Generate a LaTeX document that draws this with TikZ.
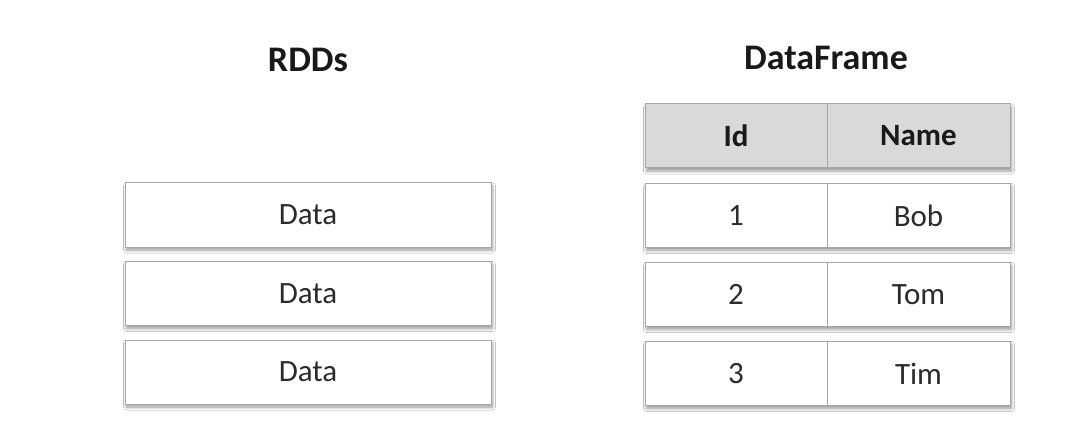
\documentclass[tikz,border=0pt]{standalone}
\usepackage{fontspec}
\setmainfont{Carlito}
\usetikzlibrary{shadows.blur}
\definecolor{bordergray}{HTML}{A6A6A6}
\definecolor{headgray}{HTML}{D9D9D9}
\definecolor{txt}{HTML}{2B2B2B}
\tikzset{
  shadowed/.style={blur shadow={shadow xshift=1.5pt, shadow yshift=-3pt, shadow blur steps=8,
      shadow blur radius=3pt, shadow opacity=40}},
  cell/.style={draw=bordergray, line width=1pt, fill=white, minimum height=64pt,
    inner sep=0pt, text=txt, font=\fontsize{31}{37}\selectfont},
  rowbox/.style={cell, shadowed, minimum width=365pt},
  head/.style={cell, fill=headgray, font=\fontsize{31}{37}\selectfont\bfseries, text=black!90},
  title/.style={font=\fontsize{36}{42}\selectfont\bfseries, text=black!90, inner sep=0pt}
}
\begin{document}
\begin{tikzpicture}[x=1pt,y=-1pt]
\path[use as bounding box, fill=white] (0,0) rectangle (1088,441);
\node[title] (t1) at (308,60) {RDDs};
\node[title] (t2) at (826,58) {DataFrame};
\node[cell, shadowed, minimum width=366pt] (d1) at (308,215) {Data};
\node[cell, shadowed, minimum width=366pt] (d2) at (308,293.5) {Data};
\node[cell, shadowed, minimum width=366pt] (d3) at (308,372) {Data};
% table rows (shadow carriers)
\node[rowbox, fill=headgray] (r0) at (827.5,136) {};
\node[rowbox] (r1) at (827.5,215.5) {};
\node[rowbox] (r2) at (827.5,294.5) {};
\node[rowbox] (r3) at (827.5,373.5) {};
% cells
\node[head, minimum width=182pt] (hid) at (736,136) {Id};
\node[head, minimum width=183pt] (hname) at (918.5,136) {Name};
\node[cell, minimum width=182pt] (i1) at (736,215.5) {1};
\node[cell, minimum width=183pt] (n1) at (918.5,215.5) {Bob};
\node[cell, minimum width=182pt] (i2) at (736,294.5) {2};
\node[cell, minimum width=183pt] (n2) at (918.5,294.5) {Tom};
\node[cell, minimum width=182pt] (i3) at (736,373.5) {3};
\node[cell, minimum width=183pt] (n3) at (918.5,373.5) {Tim};
\end{tikzpicture}
\end{document}
